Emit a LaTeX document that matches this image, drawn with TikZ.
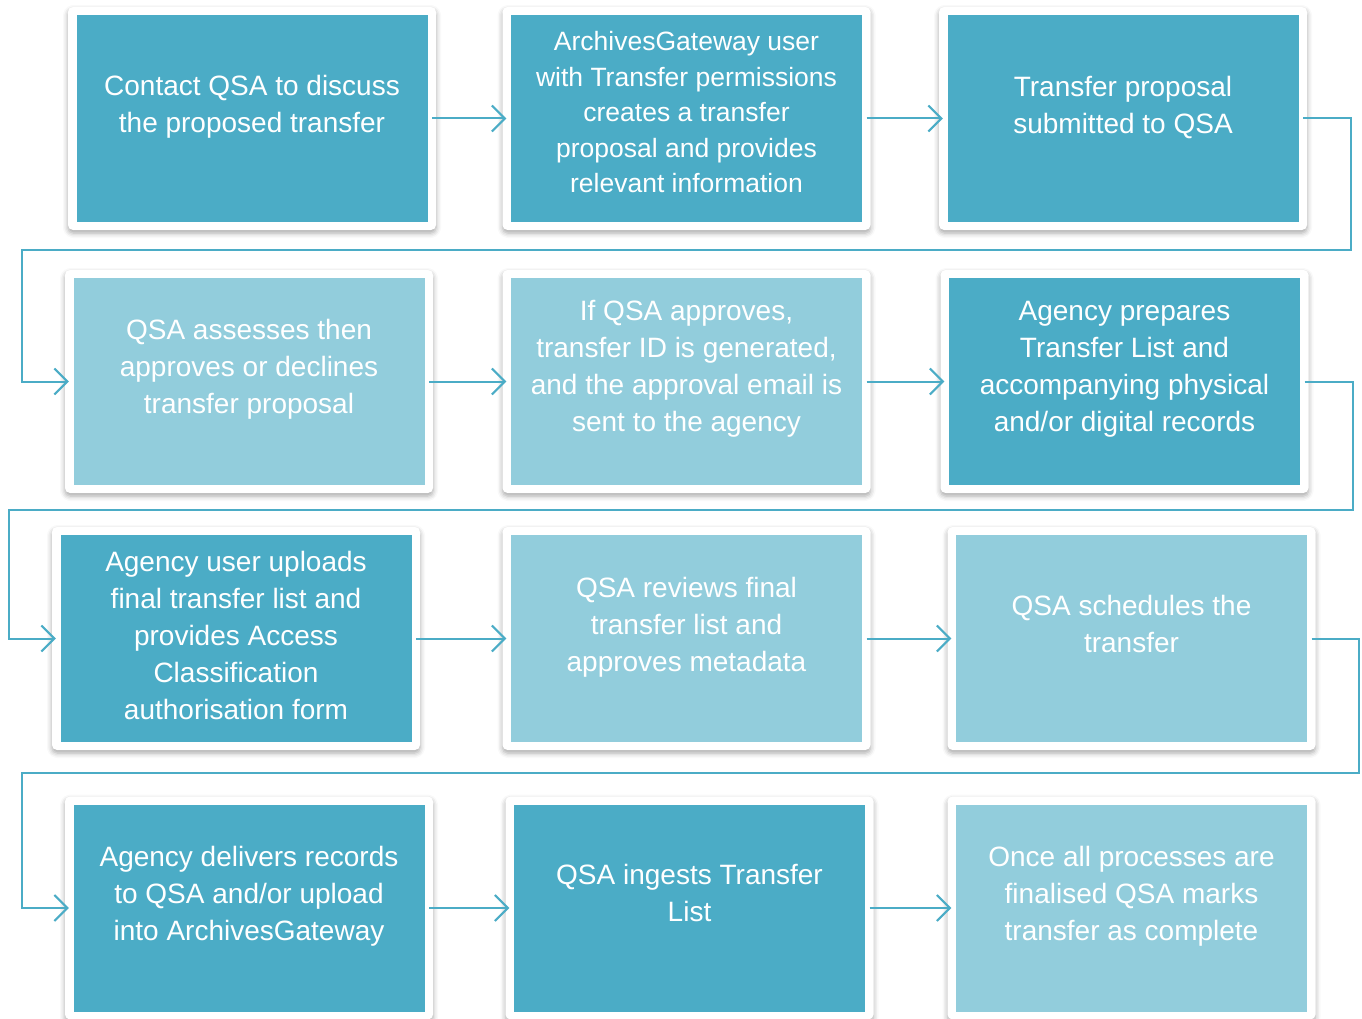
\documentclass[tikz,border=0pt]{standalone}
\usepackage{fontspec}
\setmainfont{Liberation Sans}
\usetikzlibrary{arrows.meta,calc,shadows.blur}

\definecolor{qsadark}{HTML}{4BACC6}
\definecolor{qsalight}{HTML}{92CDDC}

\tikzset{
  card/.style={fill=white, rounded corners=5pt, inner sep=0pt,
    minimum width=368pt, minimum height=223pt,
    blur shadow={shadow xshift=0pt, shadow yshift=-3pt, shadow blur radius=5pt, shadow opacity=35}},
  panel/.style={inner sep=0pt, minimum width=351pt, minimum height=207pt},
  words/.style={text=white, align=center, inner sep=0pt, font=\fontsize{28}{37}\selectfont},
  link/.style={draw=qsadark, line width=2pt, shorten <=-4pt, shorten >=-4pt,
    -{Straight Barb[length=13pt,width=26pt,line width=2pt]}},
}

\begin{document}
\begin{tikzpicture}[x=1pt,y=-1pt]
		\useasboundingbox (0,0) rectangle (1362,1019);

		% white cards
		\foreach \n/\x/\y in {1/252/118.5, 2/686.5/118.5, 3/1123/118.5,
		                      4/249/381.5, 5/686.5/381.5, 6/1124.5/381.5,
		                      7/236/638.5, 8/686.5/638.5, 9/1131.5/638.5,
		                      10/249/908, 11/689.5/908, 12/1131.5/908} {
			\node[card] (f\n) at (\x,\y) {};
		}

		% coloured panels
		\foreach \n/\c in {1/qsadark, 2/qsadark, 3/qsadark, 4/qsalight, 5/qsalight, 6/qsadark,
		                   7/qsadark, 8/qsalight, 9/qsalight, 10/qsadark, 11/qsadark, 12/qsalight} {
			\node[panel, fill=\c] (b\n) at (f\n) {};
		}

		% texts
		\node[words] (t1) at ($(b1)+(0,-12)$) {Contact QSA to discuss\\the proposed transfer};
		\node[words, font=\fontsize{26.5}{35.5}\selectfont] (t2) at ($(b2)+(0,-6)$) {ArchivesGateway user\\with Transfer permissions\\creates a transfer\\proposal and provides\\relevant information};
		\node[words] (t3) at ($(b3)+(0,-11)$) {Transfer proposal\\submitted to QSA};
		\node[words] (t4) at ($(b4)+(0,-12)$) {QSA assesses then\\approves or declines\\transfer proposal};
		\node[words] (t5) at ($(b5)+(0,-13)$) {If QSA approves,\\transfer ID is generated,\\and the approval email is\\sent to the agency};
		\node[words] (t6) at ($(b6)+(0,-12)$) {Agency prepares\\Transfer List and\\accompanying physical\\and/or digital records};
		\node[words] (t7) at ($(b7)+(0,-3)$) {Agency user uploads\\final transfer list and\\provides Access\\Classification\\authorisation form};
		\node[words] (t8) at ($(b8)+(0,-11)$) {QSA reviews final\\transfer list and\\approves metadata};
		\node[words] (t9) at ($(b9)+(0,-15)$) {QSA schedules the\\transfer};
		\node[words] (t10) at ($(b10)+(0,-12)$) {Agency delivers records\\to QSA and/or upload\\into ArchivesGateway};
		\node[words] (t11) at ($(b11)+(0,-15)$) {QSA ingests Transfer\\List};
		\node[words] (t12) at ($(b12)+(0,-12)$) {Once all processes are\\finalised QSA marks\\transfer as complete};

		% arrows along each row
		\foreach \a/\b in {1/2, 2/3, 4/5, 5/6, 7/8, 8/9, 10/11, 11/12} {
			\draw[link] (f\a.east) -- (f\b.west);
		}

		% row changes
		\coordinate (r1) at (1351,250);
		\coordinate (l1) at (22,250);
		\coordinate (r2) at (1353,510);
		\coordinate (l2) at (9,510);
		\coordinate (r3) at (1359,773);
		\coordinate (l3) at (22,773);
		\draw[link] (f3.east) -| (r1) -- (l1) |- (f4.west);
		\draw[link] (f6.east) -| (r2) -- (l2) |- (f7.west);
		\draw[link] (f9.east) -| (r3) -- (l3) |- (f10.west);
	\end{tikzpicture}
\end{document}
